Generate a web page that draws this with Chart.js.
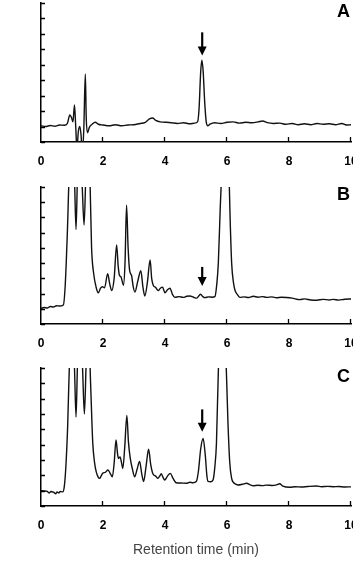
<!DOCTYPE html>
<html>
<head>
<meta charset="utf-8">
<script src="https://cdn.jsdelivr.net/npm/chart.js@4.4.0/dist/chart.umd.min.js"></script>
<style>
  body { margin: 0; width: 353px; height: 561px; overflow: hidden; background: #fff; position: relative; }
  .panel { position: absolute; left: 0; width: 358px; }
  .tag { position: absolute; left: 337px; font: bold 18px "Liberation Sans", Arial, sans-serif; color: #000; }
</style>
</head>
<body>
<div class="panel" style="top:0;height:180px"><canvas id="chartA"></canvas></div>
<div class="panel" style="top:180px;height:180px"><canvas id="chartB"></canvas></div>
<div class="panel" style="top:360px;height:201px"><canvas id="chartC"></canvas></div>
<div class="tag" style="top:1px">A</div>
<div class="tag" style="top:184px">B</div>
<div class="tag" style="top:366px">C</div>
<script>
// retention time (min) and detector signal
const timeA = [0.00,0.15,0.30,0.45,0.60,0.75,0.85,0.93,0.98,1.03,1.08,1.12,1.16,1.20,1.25,1.29,1.33,1.38,1.43,1.46,1.50,1.56,1.65,1.75,1.85,2.00,2.20,2.40,2.60,2.80,3.00,3.20,3.35,3.50,3.60,3.70,3.85,4.00,4.20,4.40,4.60,4.80,4.95,5.05,5.10,5.15,5.19,5.23,5.28,5.33,5.38,5.45,5.60,5.80,6.00,6.20,6.40,6.60,6.80,7.00,7.15,7.30,7.50,7.70,7.90,8.10,8.30,8.50,8.70,8.90,9.10,9.30,9.50,9.70,9.85,10.0];
const signalA = [1.05,1.00,1.07,1.02,1.10,1.08,1.20,1.75,1.60,1.30,2.40,1.00,-0.50,0.60,1.00,0.50,-0.60,0.80,4.40,1.50,0.60,0.95,1.15,1.28,1.15,1.10,1.05,1.12,1.05,1.10,1.12,1.20,1.25,1.50,1.55,1.40,1.30,1.28,1.25,1.20,1.25,1.18,1.22,1.30,2.20,4.50,5.30,4.60,2.60,1.30,1.05,1.15,1.25,1.20,1.28,1.30,1.22,1.28,1.25,1.30,1.36,1.25,1.20,1.22,1.15,1.20,1.12,1.18,1.12,1.20,1.15,1.18,1.12,1.20,1.10,1.12];

const timeB = [0.00,0.10,0.20,0.30,0.40,0.50,0.60,0.72,0.78,0.85,0.92,1.00,1.08,1.13,1.18,1.26,1.33,1.39,1.45,1.52,1.58,1.63,1.70,1.78,1.85,1.92,1.98,2.05,2.15,2.22,2.28,2.36,2.44,2.49,2.53,2.58,2.66,2.71,2.76,2.81,2.86,2.92,2.97,3.03,3.12,3.22,3.29,3.35,3.43,3.52,3.57,3.62,3.70,3.78,3.85,3.92,4.00,4.08,4.16,4.24,4.32,4.45,4.59,4.70,4.80,4.92,5.02,5.15,5.22,5.29,5.40,5.52,5.61,5.67,5.72,5.78,5.85,5.95,6.05,6.10,6.15,6.21,6.26,6.33,6.42,6.55,6.70,6.85,7.00,7.15,7.28,7.45,7.60,7.75,7.92,8.10,8.35,8.50,8.70,8.90,9.10,9.30,9.43,9.60,9.80,10.0];
const signalB = [1.03,1.08,1.05,1.15,1.12,1.20,1.18,1.25,2.50,6.00,10.5,12,9.5,6.2,10,12,9,6.5,10,12,9.5,5.1,3.3,2.4,2.05,2.35,2.45,2.38,3.30,2.60,2.20,3.00,5.20,3.80,3.20,3.10,2.55,4.00,7.80,5.00,3.50,3.20,2.50,2.10,2.80,3.50,2.40,1.84,2.70,4.20,3.00,2.55,2.40,2.20,2.35,2.42,2.05,2.25,2.35,1.95,1.75,1.80,1.75,1.82,1.84,1.76,1.70,1.95,1.80,1.73,1.78,1.76,1.80,2.60,4.00,7.50,11,14,11,7,4.0,2.70,2.20,1.95,1.75,1.78,1.74,1.82,1.76,1.80,1.75,1.78,1.72,1.76,1.74,1.70,1.60,1.65,1.58,1.56,1.62,1.58,1.62,1.57,1.63,1.64];

const timeC = [0.00,0.10,0.20,0.27,0.32,0.40,0.48,0.52,0.58,0.62,0.70,0.75,0.80,0.86,0.92,1.00,1.08,1.13,1.18,1.26,1.34,1.40,1.46,1.53,1.60,1.67,1.73,1.78,1.84,1.89,1.95,1.99,2.08,2.16,2.24,2.30,2.36,2.42,2.47,2.50,2.55,2.60,2.64,2.70,2.77,2.82,2.88,2.95,3.02,3.10,3.18,3.25,3.31,3.39,3.47,3.54,3.61,3.70,3.77,3.83,3.88,3.94,3.99,4.08,4.17,4.26,4.36,4.50,4.69,4.80,4.90,5.01,5.08,5.15,5.23,5.30,5.35,5.39,5.47,5.55,5.61,5.66,5.73,5.85,5.96,6.03,6.09,6.15,6.20,6.28,6.36,6.50,6.63,6.75,6.84,7.00,7.15,7.27,7.45,7.60,7.70,7.80,8.03,8.20,8.40,8.60,8.89,9.05,9.25,9.43,9.60,9.80,10.0];
const signalC = [1.00,0.98,0.95,0.85,0.95,0.90,0.80,0.92,0.85,0.95,0.92,1.25,2.50,5.20,9.5,12,9,5.8,9.5,12,9,6.0,9.5,12,8,4.1,2.8,2.24,1.90,1.80,2.00,2.13,2.20,2.35,2.10,1.90,2.80,4.30,3.40,3.10,3.20,2.80,2.45,3.80,5.90,4.20,3.10,2.40,1.90,2.40,2.90,2.10,1.60,2.60,3.70,2.70,2.10,1.95,1.80,1.95,2.10,1.85,1.70,1.95,2.13,1.80,1.52,1.50,1.48,1.55,1.52,1.60,2.30,3.70,4.40,3.30,2.00,1.60,1.58,1.70,2.60,4.10,9.5,13,10,5.5,2.80,1.80,1.55,1.42,1.37,1.42,1.48,1.38,1.32,1.35,1.33,1.36,1.34,1.38,1.45,1.30,1.22,1.26,1.24,1.27,1.30,1.26,1.28,1.26,1.27,1.24,1.25];

// arrows marking the analyte peak: [time, top, tip]
const arrowA = [5.2, 7.1, 5.6];
const arrowB = [5.2, 3.75, 2.5];
const arrowC = [5.2, 6.3, 4.85];

const xTicks = [0, 2, 4, 6, 8, 10];

// ticks point into the plot, so draw them ourselves
const inwardTicks = {
  id: 'inwardTicks',
  afterDraw(chart, args, opts) {
    const ctx = chart.ctx, x = chart.scales.x, y = chart.scales.y;
    const a = chart.chartArea;
    ctx.save();
    ctx.strokeStyle = '#000';
    ctx.lineWidth = 1.3;
    ctx.beginPath();
    y.ticks.forEach(t => {
      const py = Math.round(y.getPixelForValue(t.value)) + 0.5;
      ctx.moveTo(a.left, py);
      ctx.lineTo(a.left + 4, py);
    });
    x.ticks.forEach(t => {
      if (t.value === 0) return;
      const px = Math.round(x.getPixelForValue(t.value)) - 0.5;
      ctx.moveTo(px, a.bottom);
      ctx.lineTo(px, a.bottom - 5);
    });
    ctx.stroke();

    const arr = opts.at;
    if (arr) {
      const px = x.getPixelForValue(arr[0]);
      const top = y.getPixelForValue(arr[1]);
      const tip = y.getPixelForValue(arr[2]);
      ctx.lineWidth = 2.2;
      ctx.beginPath();
      ctx.moveTo(px, top);
      ctx.lineTo(px, tip - 8);
      ctx.stroke();
      ctx.fillStyle = '#000';
      ctx.beginPath();
      ctx.moveTo(px - 4.5, tip - 9);
      ctx.lineTo(px + 4.5, tip - 9);
      ctx.lineTo(px, tip);
      ctx.closePath();
      ctx.fill();
    }
    ctx.restore();
  }
};

function makeChart(id, times, signal, arrow, top, axisH, withTitle) {
  const ctx = document.getElementById(id).getContext('2d');
  return new Chart(ctx, {
    type: 'line',
    data: {
      datasets: [{
        data: times.map((t, i) => ({ x: t, y: signal[i] })),
        borderColor: '#111',
        borderWidth: 1.4,
        pointRadius: 0,
        cubicInterpolationMode: 'monotone',
        fill: false
      }]
    },
    options: {
      responsive: true,
      maintainAspectRatio: false,
      animation: false,
      layout: { padding: { left: 41, top: top, right: 7, bottom: 0 } },
      plugins: {
        legend: { display: false },
        tooltip: { enabled: false },
        inwardTicks: { at: arrow }
      },
      scales: {
        x: {
          type: 'linear',
          min: 0,
          max: 10,
          afterBuildTicks: s => { s.ticks = xTicks.map(v => ({ value: v })); },
          afterFit: s => { s.height = axisH; s.paddingLeft = 0; s.paddingRight = 0; },
          ticks: {
            color: '#000',
            padding: 12,
            maxRotation: 0,
            font: { family: '"Liberation Sans", Arial, sans-serif', size: 12, weight: 'bold' }
          },
          grid: { display: false, drawTicks: false },
          border: { display: true, color: '#000', width: 1.5 },
          title: {
            display: withTitle,
            text: 'Retention time (min)',
            color: '#444',
            padding: { top: 6, bottom: 2 },
            font: { family: '"Liberation Sans", Arial, sans-serif', size: 14 }
          }
        },
        y: {
          min: 0,
          max: 9,
          ticks: { display: false, stepSize: 1 },
          grid: { display: false, drawTicks: false },
          border: { display: true, color: '#000', width: 1.5 }
        }
      }
    },
    plugins: [inwardTicks]
  });
}

makeChart('chartA', timeA, signalA, arrowA, 3, 38, false);
makeChart('chartB', timeB, signalB, arrowB, 7, 36, false);
makeChart('chartC', timeC, signalC, arrowC, 8, 55, true);
</script>
</body>
</html>
